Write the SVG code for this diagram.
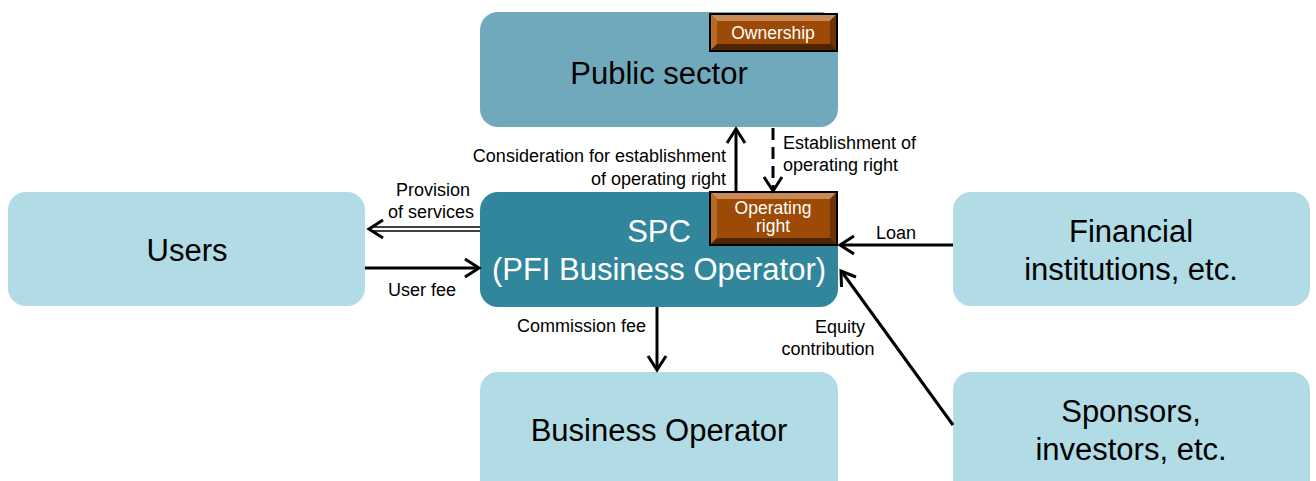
<svg xmlns="http://www.w3.org/2000/svg" width="1316" height="481" viewBox="0 0 1316 481">
<style>
.big{font-family:"Liberation Sans",Arial,sans-serif;font-size:31px;text-anchor:middle;fill:#000}
.lbl{font-family:"Liberation Sans",Arial,sans-serif;font-size:18px;fill:#000}
.tag{font-family:"Liberation Sans",Arial,sans-serif;font-size:17.5px;fill:#fff;text-anchor:middle}
.light{fill:#b1dbe5}
.ln{stroke:#000;stroke-width:3;fill:none}
</style>
<rect width="1316" height="481" fill="#fff"/>
<g id="public-sector">
<rect x="480" y="12" width="358" height="115" rx="18" fill="#70a9bb"/>
<text class="big" x="659" y="84">Public sector</text>
<g id="ownership">
<rect x="710" y="14" width="127" height="37" fill="#5a2a04" stroke="#000" stroke-width="2"/>
<polygon points="711,15 836,15 830,21 717,21" fill="#c98a55"/>
<polygon points="711,15 717,21 717,44 711,50" fill="#b56a2e"/>
<polygon points="836,15 836,50 830,44 830,21" fill="#6b3306"/>
<polygon points="711,50 717,44 830,44 836,50" fill="#4e2503"/>
<rect x="717" y="21" width="113" height="23" fill="#9c4a06"/>
<text class="tag" x="773" y="39">Ownership</text>
</g>
</g>
<g id="spc">
<rect x="480" y="192" width="358" height="115" rx="18" fill="#31869b"/>
<text class="big" x="659" y="242" style="fill:#fff">SPC</text>
<text class="big" x="659" y="280" style="fill:#fff">(PFI Business Operator)</text>
<g id="operating-right">
<rect x="710" y="192" width="127" height="53" fill="#5a2a04" stroke="#000" stroke-width="2"/>
<polygon points="711,193 836,193 830,199 717,199" fill="#c98a55"/>
<polygon points="711,193 717,199 717,238 711,244" fill="#b56a2e"/>
<polygon points="836,193 836,244 830,238 830,199" fill="#6b3306"/>
<polygon points="711,244 717,238 830,238 836,244" fill="#4e2503"/>
<rect x="717" y="199" width="113" height="39" fill="#9c4a06"/>
<text class="tag" x="773" y="214">Operating</text>
<text class="tag" x="773" y="232">right</text>
</g>
</g>
<g id="users">
<rect class="light" x="8" y="192" width="357" height="114" rx="18"/>
<text class="big" x="187" y="261">Users</text>
</g>
<g id="financial">
<rect class="light" x="953" y="192" width="357" height="114" rx="18"/>
<text class="big" x="1131" y="242">Financial</text>
<text class="big" x="1131" y="280">institutions, etc.</text>
</g>
<g id="business-operator">
<rect class="light" x="480" y="372" width="358" height="130" rx="18"/>
<text class="big" x="659" y="441">Business Operator</text>
</g>
<g id="sponsors">
<rect class="light" x="953" y="372" width="357" height="130" rx="18"/>
<text class="big" x="1131" y="422">Sponsors,</text>
<text class="big" x="1131" y="460">investors, etc.</text>
</g>
<g id="connectors">
<line x1="480" y1="227" x2="371" y2="227" stroke="#000" stroke-width="1.5"/>
<line x1="480" y1="231" x2="371" y2="231" stroke="#000" stroke-width="1.5"/>
<path d="M383,220 L369,229 L383,238" class="ln"/>
<line x1="365" y1="268" x2="478" y2="268" class="ln"/>
<path d="M465,259 L479,268 L465,277" class="ln"/>
<line x1="736" y1="192" x2="736" y2="130" class="ln"/>
<path d="M727,143 L736,129 L745,143" class="ln"/>
<line x1="773" y1="128" x2="773" y2="190" class="ln" stroke-dasharray="12,7"/>
<path d="M764,177 L773,191 L782,177" class="ln"/>
<line x1="953" y1="245" x2="841" y2="245" class="ln"/>
<path d="M854,236 L840,245 L854,254" class="ln"/>
<line x1="953" y1="425" x2="842" y2="272" class="ln"/>
<path d="M841.5,287 L841,271 L856,277" class="ln"/>
<line x1="657" y1="307" x2="657" y2="369" class="ln"/>
<path d="M648,356 L657,370 L666,356" class="ln"/>
</g>
<g id="labels">
<text class="lbl" x="433" y="196" text-anchor="middle">Provision</text>
<text class="lbl" x="431" y="218" text-anchor="middle">of services</text>
<text class="lbl" x="422" y="296" text-anchor="middle">User fee</text>
<text class="lbl" x="726" y="162" text-anchor="end">Consideration for establishment</text>
<text class="lbl" x="726" y="185" text-anchor="end">of operating right</text>
<text class="lbl" x="783" y="149">Establishment of</text>
<text class="lbl" x="783" y="171">operating right</text>
<text class="lbl" x="896" y="239" text-anchor="middle">Loan</text>
<text class="lbl" x="840" y="333" text-anchor="middle">Equity</text>
<text class="lbl" x="828" y="355" text-anchor="middle">contribution</text>
<text class="lbl" x="517" y="332">Commission  fee</text>
</g>
</svg>
